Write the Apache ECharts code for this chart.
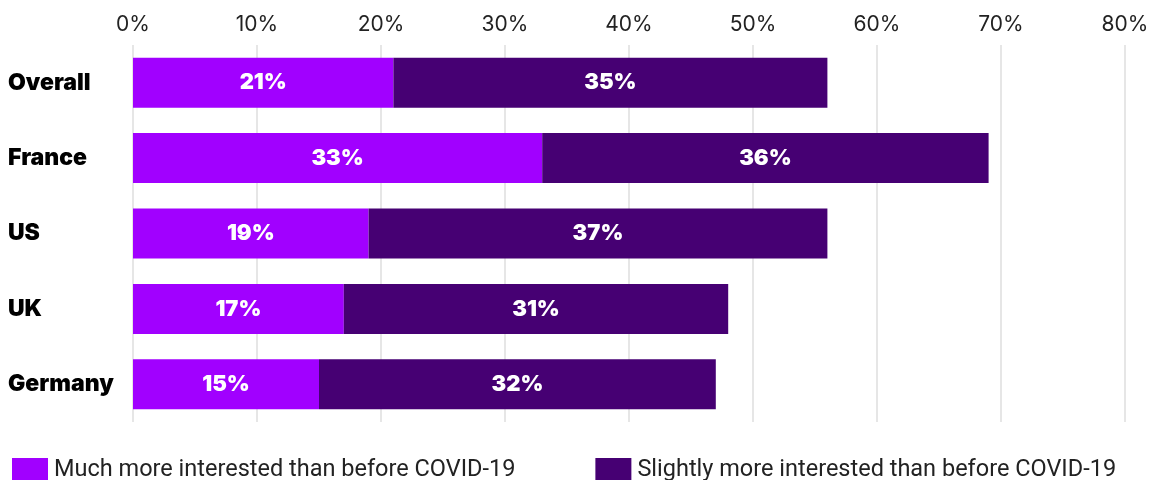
<!DOCTYPE html>
<html><head><meta charset="utf-8">
<script src="https://cdn.jsdelivr.net/npm/echarts@6/dist/echarts.min.js"></script>
<style>html,body{margin:0;padding:0;background:#fff}#c{width:1155px;height:480px}</style>
</head><body><div id="c"></div>
<script>
const categories = ['Overall', 'France', 'US', 'UK', 'Germany'];
const muchMore = [21, 33, 19, 17, 15];
const slightlyMore = [35, 36, 37, 31, 32];
const seriesNames = ['Much more interested than before COVID-19', 'Slightly more interested than before COVID-19'];
const tickMax = 80;
const tickStep = 10;

const chart = echarts.init(document.getElementById('c'));
const lbl = {show: true, position: 'inside', color: '#fff', fontFamily: 'Inter', fontWeight: 900, fontSize: 22, formatter: p => p.value + '%'};
chart.setOption({
  animation: false,
  textStyle: {fontFamily: 'Inter'},
  grid: {left: 133, right: 30, top: 45, bottom: 58},
  legend: {
    left: 7, top: 453, itemWidth: 36, itemHeight: 24, itemGap: 80,
    icon: 'rect',
    textStyle: {fontFamily: 'Roboto', fontSize: 23.5, color: '#222', padding: [0, 0, 0, 1]},
    data: seriesNames
  },
  xAxis: {
    type: 'value', position: 'top', min: 0, max: tickMax, interval: tickStep,
    axisLine: {show: false}, axisTick: {show: false},
    axisLabel: {formatter: v => v + '%', fontSize: 21, color: '#222', margin: 10},
    splitLine: {show: true, lineStyle: {color: '#e6e6e6', width: 2}}
  },
  yAxis: {
    type: 'category', inverse: true, data: categories,
    axisLine: {show: false}, axisTick: {show: false},
    axisLabel: {align: 'left', margin: 125, fontSize: 23, fontWeight: 900, color: '#000'}
  },
  series: [
    {name: seriesNames[0], type: 'bar', stack: 't', data: muchMore, barWidth: 50, itemStyle: {color: '#A100FF'}, label: lbl},
    {name: seriesNames[1], type: 'bar', stack: 't', data: slightlyMore, barWidth: 50, itemStyle: {color: '#460073'}, label: lbl}
  ]
});
</script></body></html>
